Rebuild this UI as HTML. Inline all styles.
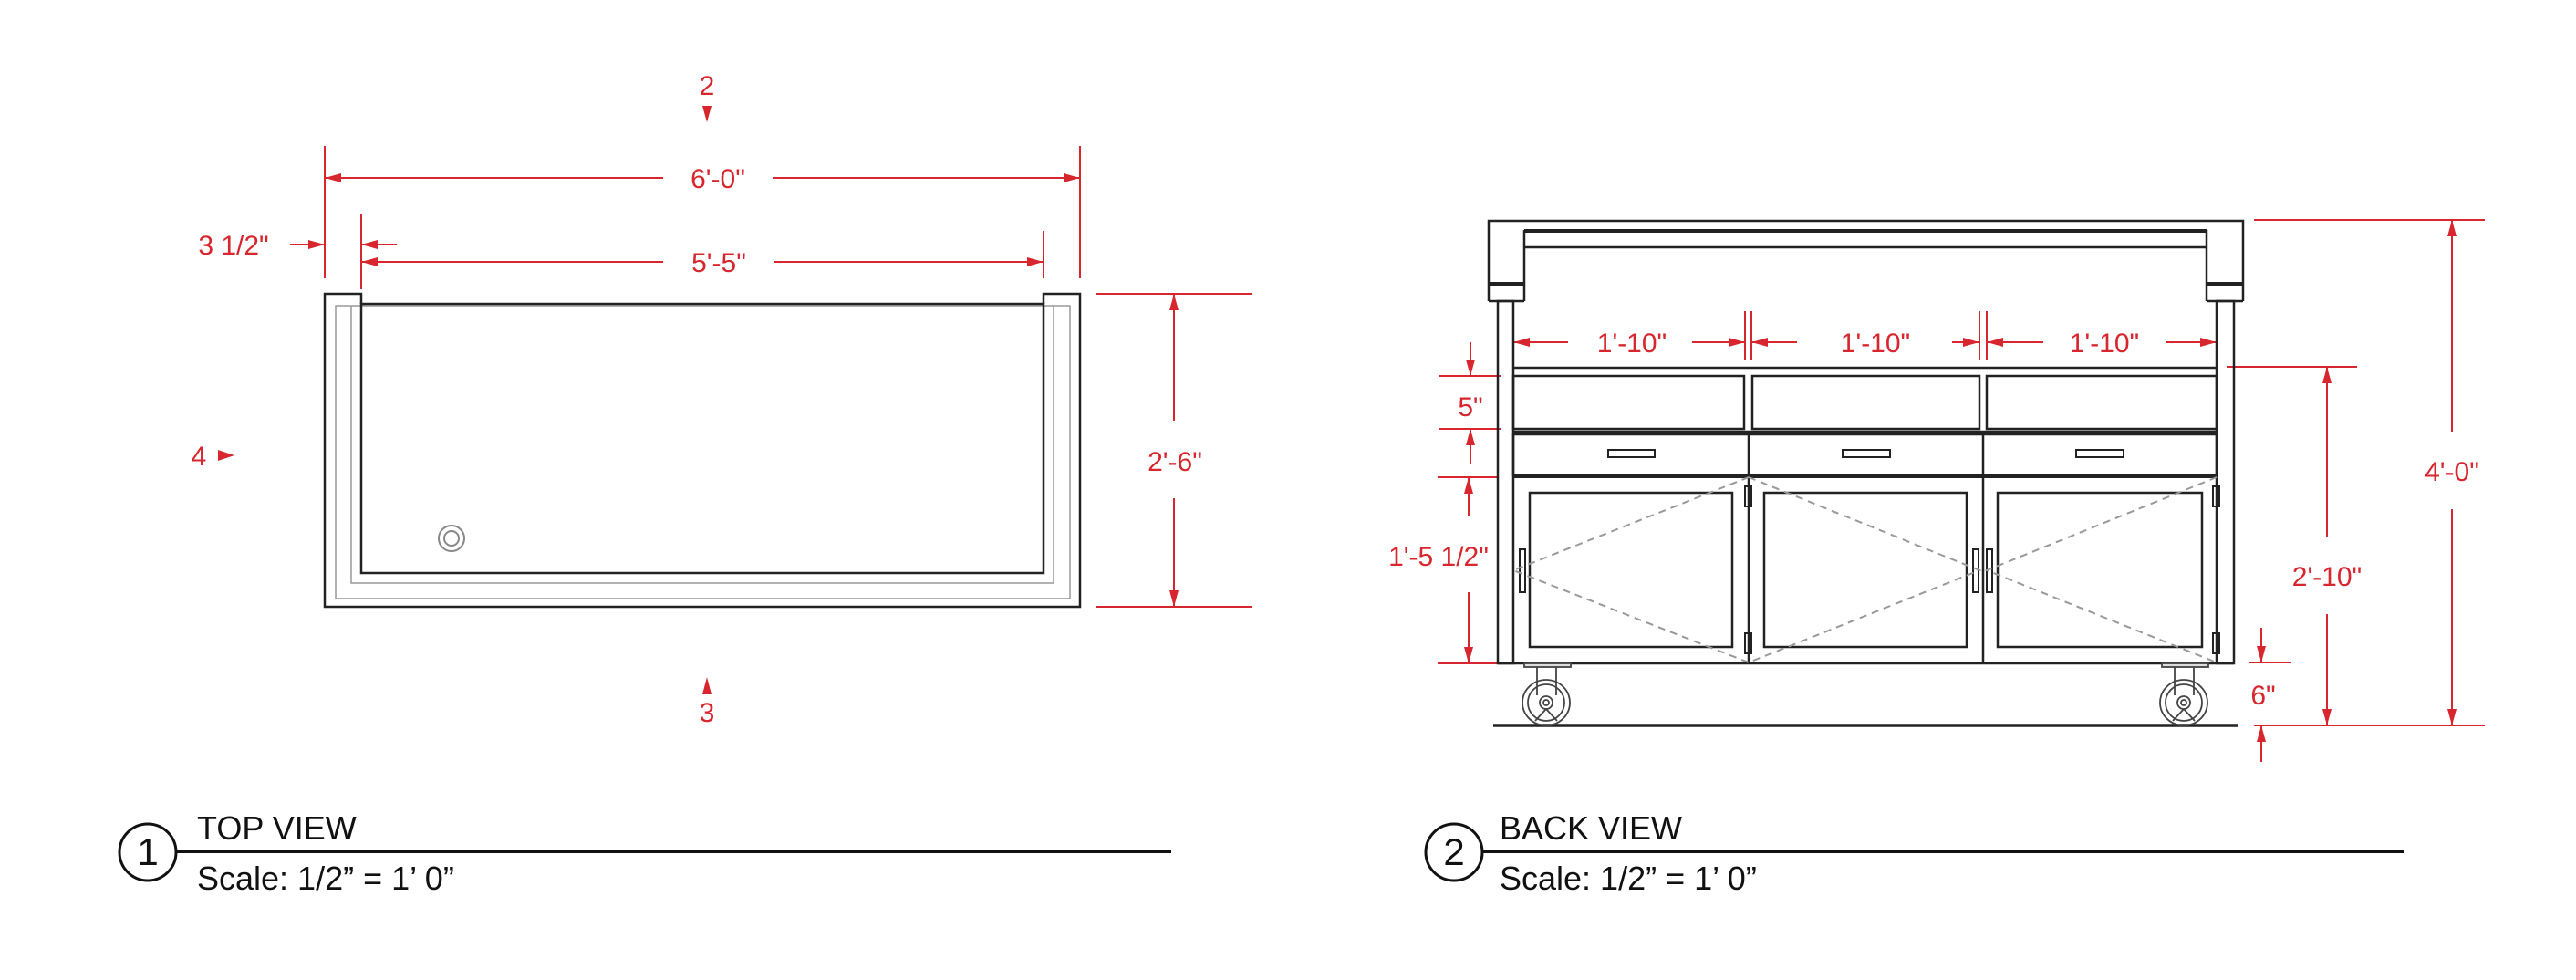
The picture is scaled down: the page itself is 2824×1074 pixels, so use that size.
<!DOCTYPE html>
<html><head><meta charset="utf-8"><style>
html,body{margin:0;padding:0;background:#fff;}
svg{display:block;}
.d{font-family:"Liberation Sans",sans-serif;font-size:30px;fill:#d7262e;}
.t{font-family:"Liberation Sans",sans-serif;font-size:36px;fill:#111;}
</style></head><body>
<svg width="2824" height="1074" viewBox="0 0 2824 1074" xmlns="http://www.w3.org/2000/svg">
<g stroke="#d7262e" stroke-width="2" fill="none">
<!-- top view dims -->
<line x1="356" y1="160" x2="356" y2="305"/><line x1="1184" y1="160" x2="1184" y2="305"/>
<line x1="356" y1="195" x2="727" y2="195"/><line x1="847" y1="195" x2="1184" y2="195"/>
<line x1="396" y1="234" x2="396" y2="317"/><line x1="1144" y1="253" x2="1144" y2="305"/>
<line x1="396" y1="287" x2="727" y2="287"/><line x1="849" y1="287" x2="1144" y2="287"/>
<line x1="318" y1="268" x2="356" y2="268"/><line x1="396" y1="268" x2="435" y2="268"/>
<line x1="1202" y1="322" x2="1372" y2="322"/><line x1="1202" y1="665" x2="1372" y2="665"/>
<line x1="1287" y1="322" x2="1287" y2="461"/><line x1="1287" y1="546" x2="1287" y2="665"/>
<!-- back view dims -->
<line x1="1913" y1="341" x2="1913" y2="395"/><line x1="1920" y1="341" x2="1920" y2="395"/>
<line x1="2170" y1="341" x2="2170" y2="395"/><line x1="2178" y1="341" x2="2178" y2="395"/>
<line x1="1659" y1="341" x2="1659" y2="395"/><line x1="2430" y1="341" x2="2430" y2="395"/>
<line x1="1659" y1="375" x2="1719" y2="375"/><line x1="1855" y1="375" x2="1913" y2="375"/>
<line x1="1920" y1="375" x2="1970" y2="375"/><line x1="2140" y1="375" x2="2170" y2="375"/>
<line x1="2178" y1="375" x2="2240" y2="375"/><line x1="2375" y1="375" x2="2430" y2="375"/>
<line x1="1578" y1="412" x2="1646" y2="412"/><line x1="1578" y1="470" x2="1646" y2="470"/>
<line x1="1612" y1="375" x2="1612" y2="412"/><line x1="1612" y1="470" x2="1612" y2="509"/>
<line x1="1576" y1="523" x2="1642" y2="523"/><line x1="1576" y1="727" x2="1642" y2="727"/>
<line x1="1610" y1="523" x2="1610" y2="565"/><line x1="1610" y1="649" x2="1610" y2="727"/>
<line x1="2471" y1="241" x2="2724" y2="241"/><line x1="2471" y1="795" x2="2724" y2="795"/>
<line x1="2688" y1="241" x2="2688" y2="473"/><line x1="2688" y1="558" x2="2688" y2="795"/>
<line x1="2441" y1="402" x2="2584" y2="402"/>
<line x1="2551" y1="402" x2="2551" y2="588"/><line x1="2551" y1="673" x2="2551" y2="795"/>
<line x1="2465" y1="726" x2="2512" y2="726"/>
<line x1="2479" y1="688" x2="2479" y2="726"/><line x1="2479" y1="795" x2="2479" y2="835"/>
</g>
<g fill="#d7262e">
<polygon points="356,195 374,190 374,200"/><polygon points="1184,195 1166,190 1166,200"/>
<polygon points="396,287 414,282 414,292"/><polygon points="1144,287 1126,282 1126,292"/>
<polygon points="356,268 338,263 338,273"/><polygon points="396,268 414,263 414,273"/>
<polygon points="1287,322 1282,340 1292,340"/><polygon points="1287,665 1282,647 1292,647"/>
<polygon points="775,134 770,116 780,116"/><polygon points="775,742 770,761 780,761"/>
<polygon points="257,499 239,493 239,505"/>
<polygon points="1659,375 1677,370 1677,380"/><polygon points="1913,375 1895,370 1895,380"/>
<polygon points="1920,375 1938,370 1938,380"/><polygon points="2170,375 2152,370 2152,380"/>
<polygon points="2178,375 2196,370 2196,380"/><polygon points="2430,375 2412,370 2412,380"/>
<polygon points="1612,412 1607,394 1617,394"/><polygon points="1612,470 1607,488 1617,488"/>
<polygon points="1610,523 1605,541 1615,541"/><polygon points="1610,727 1605,709 1615,709"/>
<polygon points="2688,241 2683,259 2693,259"/><polygon points="2688,795 2683,777 2693,777"/>
<polygon points="2551,402 2546,420 2556,420"/><polygon points="2551,795 2546,777 2556,777"/>
<polygon points="2479,726 2474,708 2484,708"/><polygon points="2479,795 2474,813 2484,813"/>
</g>
<g class="d" text-anchor="middle">
<text x="787" y="206">6'-0"</text><text x="788" y="298">5'-5"</text>
<text x="256" y="279">3 1/2"</text><text x="1288" y="516">2'-6"</text>
<text x="775" y="104">2</text><text x="775" y="791">3</text><text x="218" y="510">4</text>
<text x="1789" y="386">1'-10"</text><text x="2056" y="386">1'-10"</text><text x="2307" y="386">1'-10"</text>
<text x="1612" y="456">5"</text><text x="1577" y="620">1'-5 1/2"</text>
<text x="2688" y="527">4'-0"</text><text x="2551" y="642">2'-10"</text><text x="2481" y="772">6"</text>
</g>
<!-- top view drawing -->
<g fill="none">
<path d="M396,333 L396,322 L356,322 L356,665 L1184,665 L1184,322 L1144,322 L1144,333" stroke="#222" stroke-width="2.5"/>
<path d="M368,335 L368,656 L1173,656 L1173,335 Z" stroke="#999" stroke-width="1.5"/>
<path d="M385,335 L385,639 L1155,639 L1155,335" stroke="#999" stroke-width="1.5"/>
<rect x="396" y="333" width="748" height="295" stroke="#222" stroke-width="2.5"/>
<circle cx="495" cy="590" r="14" stroke="#888" stroke-width="2"/>
<circle cx="495" cy="590" r="8" stroke="#888" stroke-width="2"/>
</g>
<!-- back view drawing -->
<g fill="none" stroke="#222" stroke-width="2.5">
<path d="M1632,330 L1632,242 L2459,242 L2459,330"/>
<line x1="1632" y1="330" x2="1671" y2="330"/><line x1="2419" y1="330" x2="2459" y2="330"/>
<line x1="1632" y1="311" x2="1671" y2="311" stroke-width="4"/><line x1="2419" y1="311" x2="2459" y2="311" stroke-width="4"/>
<line x1="1671" y1="252" x2="1671" y2="330"/><line x1="2419" y1="252" x2="2419" y2="330"/>
<line x1="1671" y1="253" x2="2419" y2="253" stroke-width="4"/><line x1="1671" y1="271" x2="2419" y2="271"/>
<rect x="1642" y="330" width="17" height="397"/><rect x="2430" y="330" width="19" height="397"/>
<line x1="1659" y1="403" x2="2430" y2="403"/>
<rect x="1659" y="412" width="253" height="58"/><rect x="1921" y="412" width="249" height="58"/><rect x="2178" y="412" width="252" height="58"/>
<line x1="1659" y1="473" x2="2430" y2="473"/>
<rect x="1659" y="476" width="771" height="45"/>
<line x1="1659" y1="522" x2="2430" y2="522" stroke-width="4"/>
<line x1="1917" y1="476" x2="1917" y2="726"/><line x1="2174" y1="476" x2="2174" y2="726"/>
<rect x="1763" y="493" width="51" height="8" stroke-width="2"/><rect x="2020" y="493" width="52" height="8" stroke-width="2"/><rect x="2276" y="493" width="52" height="8" stroke-width="2"/>
<rect x="1677" y="540" width="222" height="169"/><rect x="1934" y="540" width="222" height="169"/><rect x="2190" y="540" width="224" height="169"/>
<line x1="1642" y1="727" x2="2449" y2="727"/>
<g stroke-width="2">
<rect x="1666" y="602" width="6" height="47"/><rect x="2163" y="602" width="6" height="47"/><rect x="2178" y="602" width="6" height="47"/>
<rect x="1913" y="533" width="7" height="22"/><rect x="1913" y="694" width="7" height="22"/>
<rect x="2426" y="533" width="7" height="22"/><rect x="2426" y="694" width="7" height="22"/>
</g>
<line x1="1637" y1="795" x2="2454" y2="795" stroke-width="3.5"/>
</g>
<g fill="none" stroke="#999" stroke-width="2" stroke-dasharray="8,6">
<polyline points="1917,523 1659,625 1917,726"/>
<polyline points="1917,523 2170,625 1917,726"/>
<polyline points="2430,523 2178,625 2430,726"/>
</g>
<!-- casters -->
<g fill="none" stroke="#444" stroke-width="1.8">
<rect x="1671" y="727" width="51" height="4" fill="#ddd"/>
<line x1="1685" y1="731" x2="1685" y2="762"/><line x1="1706" y1="731" x2="1706" y2="762"/>
<ellipse cx="1695" cy="770" rx="26" ry="25"/><ellipse cx="1695" cy="770" rx="20" ry="20"/>
<circle cx="1695" cy="770" r="7"/><circle cx="1695" cy="770" r="3"/>
<line x1="1683" y1="790" x2="1695" y2="777"/><line x1="1707" y1="790" x2="1695" y2="777"/>
<rect x="2370" y="727" width="51" height="4" fill="#ddd"/>
<line x1="2384" y1="731" x2="2384" y2="762"/><line x1="2405" y1="731" x2="2405" y2="762"/>
<ellipse cx="2394" cy="770" rx="26" ry="25"/><ellipse cx="2394" cy="770" rx="20" ry="20"/>
<circle cx="2394" cy="770" r="7"/><circle cx="2394" cy="770" r="3"/>
<line x1="2382" y1="790" x2="2394" y2="777"/><line x1="2406" y1="790" x2="2394" y2="777"/>
</g>
<!-- legends -->
<g fill="none" stroke="#111" stroke-width="3">
<circle cx="162" cy="934" r="31"/><line x1="193" y1="933" x2="1284" y2="933" stroke-width="4"/>
<circle cx="1594" cy="934" r="31"/><line x1="1625" y1="933" x2="2635" y2="933" stroke-width="4"/>
</g>
<g class="t">
<text x="162" y="948" text-anchor="middle" font-size="42">1</text>
<text x="1594" y="948" text-anchor="middle" font-size="42">2</text>
<text x="216" y="920">TOP VIEW</text><text x="216" y="975">Scale: 1/2” = 1’ 0”</text>
<text x="1644" y="920">BACK VIEW</text><text x="1644" y="975">Scale: 1/2” = 1’ 0”</text>
</g>
</svg>
</body></html>
